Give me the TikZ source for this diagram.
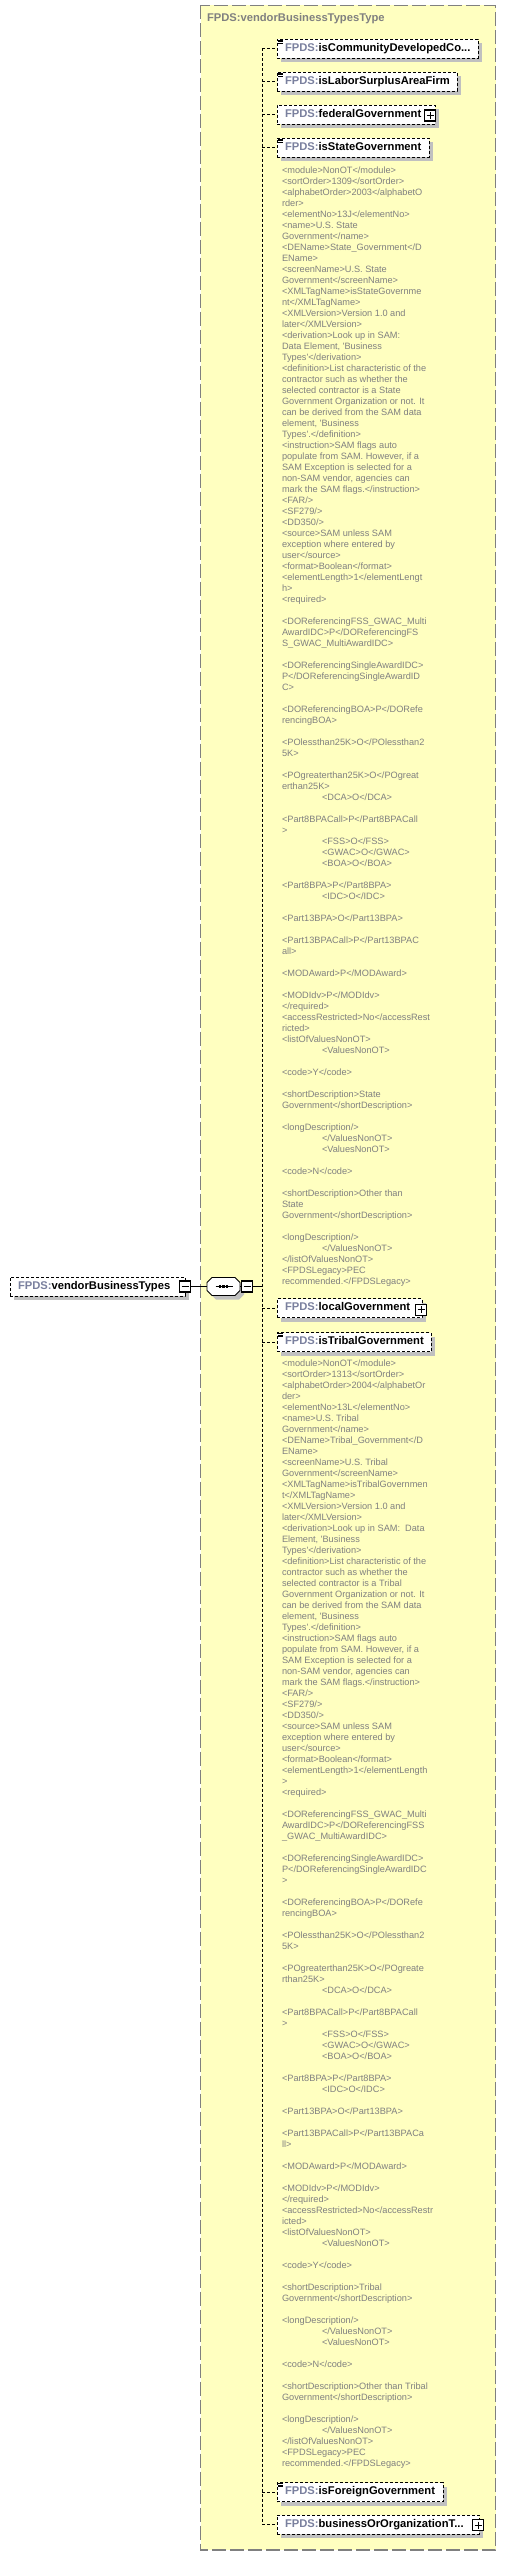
\documentclass[tikz,border=0pt]{standalone}
\usepackage{fontspec}
\newfontfamily\xsfont{Liberation Sans}
\usetikzlibrary{shadows,calc}
\definecolor{typebg}{RGB}{255,255,192}
\definecolor{typeedge}{RGB}{128,128,128}
\definecolor{anntext}{RGB}{128,128,128}
\definecolor{nsgray}{RGB}{122,128,158}
\definecolor{shadegray}{RGB}{192,192,192}
\newcommand\ns{\textcolor{nsgray}{FPDS:}}
\newcommand\ind{\hspace*{40pt}}
\newenvironment{doclines}{\begin{tabular}{@{}l@{}}}{\end{tabular}}
\begin{document}
\begin{tikzpicture}[x=1pt,y=-1pt]
\tikzset{ >=latex, inner sep=0pt, outer sep=0pt,
  elem/.style={draw, dash pattern=on 3pt off 2pt, fill=white, line width=0.8pt,
    minimum height=19, inner xsep=8, anchor=west, align=left,
    text height=8.2, text depth=2.4,
    font=\xsfont\fontsize{11.2}{13}\selectfont\bfseries,
    drop shadow={shadow xshift=4pt, shadow yshift=-4pt, fill=shadegray, opacity=1}},
  ann/.style={anchor=north west, text=anntext,
    font=\xsfont\fontsize{9.2}{11}\selectfont},
  conn/.style={dash pattern=on 3pt off 2pt, line width=0.8pt},
  plus/.style={draw, line width=1.4pt, fill=white, minimum size=11},
}
\useasboundingbox (0,0) rectangle (506,2556);

%\draw [lightgray, dashed](0,0) grid (506,2556);

% complex type frame
\fill [typebg] (200.5,5.5) rectangle (495.5,2550);
\draw [typeedge, line width=1.3pt, dash pattern=on 14pt off 4pt] (200.5,5.5) rectangle (495.5,2550);
\node [anchor=west, text=typeedge, font=\xsfont\fontsize{11.2}{13}\selectfont\bfseries] (typename) at (207,19) {FPDS:vendorBusinessTypesType};

% children
\node [elem, text width=185] (community) at (277,48.5) {\ns isCommunityDevelopedCo...};
\node [elem, text width=164] (labor) at (277,81.5) {\ns isLaborSurplusAreaFirm};
\node [elem, text width=142] (federal) at (277,114.5) {\ns federalGovernment};
\node [elem, text width=136] (state) at (277,147.5) {\ns isStateGovernment};
\node [elem, text width=129] (local) at (277,1308) {\ns localGovernment};
\node [elem, text width=138] (tribal) at (277,1342) {\ns isTribalGovernment};
\node [elem, text width=150] (foreign) at (277,2492) {\ns isForeignGovernment};
\node [elem, text width=186] (business) at (277,2524.5) {\ns businessOrOrganizationT...};

% annotation marks
\foreach \c in {community, labor, state, tribal, foreign}
  \foreach \dy in {1,2.5,4}
    \draw [line width=0.7pt] ($(\c.north west)+(1,\dy)$) -- ++(5,0);

% expand boxes
\node [plus] (federalplus) at ($(federal.east)+(-5,0.8)$) {};
\node [plus] (localplus) at ($(local.east)+(-1,1.8)$) {};
\node [plus] (businessplus) at ($(business.east)+(-1,0.5)$) {};
\foreach \p in {federalplus, localplus, businessplus}
  \draw [line width=1pt] ($(\p.center)+(-3.5,0)$) -- ++(7,0)
                         ($(\p.center)+(0,-3.5)$) -- ++(0,7);

% root element and sequence
\node [elem, text width=159] (root) at (10,1286.5) {\ns vendorBusinessTypes};
\node [plus] (rootminus) at (root.east) {};
\draw [line width=1pt] ($(rootminus.center)+(-3.5,0)$) -- ++(7,0);
\node [minimum width=33, minimum height=18] (seq) at (223.5,1286.5) {};
\fill [shadegray] ($(seq.center)+(4,4)$) ++(-16.5,-4) -- ++(5,-5) -- ++(23,0) -- ++(5,5)
      -- ++(0,8) -- ++(-5,5) -- ++(-23,0) -- ++(-5,-5) -- cycle;
\draw [fill=white, line width=0.8pt] (seq.center) ++(-16.5,-4) -- ++(5,-5) -- ++(23,0) -- ++(5,5)
      -- ++(0,8) -- ++(-5,5) -- ++(-23,0) -- ++(-5,-5) -- cycle;
\draw [line width=0.8pt] ($(seq.center)+(-8,0)$) -- ($(seq.center)+(9,0)$);
\foreach \dx in {-3.5,0,3.5}
  \fill ($(seq.center)+(\dx,0)$) +(-1.3,-1.3) rectangle +(1.3,1.3);
\node [plus] (seqminus) at ($(seq.east)+(7,0)$) {};
\draw [line width=1pt] ($(seqminus.center)+(-3.5,0)$) -- ++(7,0);
\draw [line width=0.8pt] (rootminus.east) -- (seq.west);
\draw [line width=0.8pt] (seq.east) -- (seqminus.west);

% connectors
\coordinate (spine) at (262,0);
\draw [line width=0.8pt] (seqminus.east) -- (spine |- seqminus.east);
\draw [conn] (spine |- community.west) -- (spine |- business.west);
\foreach \c in {community, labor, federal, state, local, tribal, foreign, business}
  \draw [conn] (spine |- \c.west) -- (\c.west);

% documentation
\node [ann] (statedoc) at (282,165.8) {\begin{doclines}
<module>NonOT</module>\\
<sortOrder>1309</sortOrder>\\
<alphabetOrder>2003</alphabetO\\
rder>\\
<elementNo>13J</elementNo>\\
<name>U.S. State\\
Government</name>\\
<DEName>State\_Government</D\\
EName>\\
<screenName>U.S. State\\
Government</screenName>\\
<XMLTagName>isStateGovernme\\
nt</XMLTagName>\\
<XMLVersion>Version 1.0 and\\
later</XMLVersion>\\
<derivation>Look up in SAM:\\
Data Element, 'Business\\
Types'</derivation>\\
<definition>List characteristic of the\\
contractor such as whether the\\
selected contractor is a State\\
Government Organization or not. It\\
can be derived from the SAM data\\
element, 'Business\\
Types'.</definition>\\
<instruction>SAM flags auto\\
populate from SAM. However, if a\\
SAM Exception is selected for a\\
non-SAM vendor, agencies can\\
mark the SAM flags.</instruction>\\
<FAR/>\\
<SF279/>\\
<DD350/>\\
<source>SAM unless SAM\\
exception where entered by\\
user</source>\\
<format>Boolean</format>\\
<elementLength>1</elementLengt\\
h>\\
<required>\\
~\\
<DOReferencingFSS\_GWAC\_Multi\\
AwardIDC>P</DOReferencingFS\\
S\_GWAC\_MultiAwardIDC>\\
~\\
<DOReferencingSingleAwardIDC>\\
P</DOReferencingSingleAwardID\\
C>\\
~\\
<DOReferencingBOA>P</DORefe\\
rencingBOA>\\
~\\
<POlessthan25K>O</POlessthan2\\
5K>\\
~\\
<POgreaterthan25K>O</POgreat\\
erthan25K>\\
\ind<DCA>O</DCA>\\
~\\
<Part8BPACall>P</Part8BPACall\\
>\\
\ind<FSS>O</FSS>\\
\ind<GWAC>O</GWAC>\\
\ind<BOA>O</BOA>\\
~\\
<Part8BPA>P</Part8BPA>\\
\ind<IDC>O</IDC>\\
~\\
<Part13BPA>O</Part13BPA>\\
~\\
<Part13BPACall>P</Part13BPAC\\
all>\\
~\\
<MODAward>P</MODAward>\\
~\\
<MODIdv>P</MODIdv>\\
</required>\\
<accessRestricted>No</accessRest\\
ricted>\\
<listOfValuesNonOT>\\
\ind<ValuesNonOT>\\
~\\
<code>Y</code>\\
~\\
<shortDescription>State\\
Government</shortDescription>\\
~\\
<longDescription/>\\
\ind</ValuesNonOT>\\
\ind<ValuesNonOT>\\
~\\
<code>N</code>\\
~\\
<shortDescription>Other than\\
State\\
Government</shortDescription>\\
~\\
<longDescription/>\\
\ind</ValuesNonOT>\\
</listOfValuesNonOT>\\
<FPDSLegacy>PEC\\
recommended.</FPDSLegacy>
\end{doclines}};

\node [ann] (tribaldoc) at (282,1358.8) {\begin{doclines}
<module>NonOT</module>\\
<sortOrder>1313</sortOrder>\\
<alphabetOrder>2004</alphabetOr\\
der>\\
<elementNo>13L</elementNo>\\
<name>U.S. Tribal\\
Government</name>\\
<DEName>Tribal\_Government</D\\
EName>\\
<screenName>U.S. Tribal\\
Government</screenName>\\
<XMLTagName>isTribalGovernmen\\
t</XMLTagName>\\
<XMLVersion>Version 1.0 and\\
later</XMLVersion>\\
<derivation>Look up in SAM:\ \ Data\\
Element, 'Business\\
Types'</derivation>\\
<definition>List characteristic of the\\
contractor such as whether the\\
selected contractor is a Tribal\\
Government Organization or not. It\\
can be derived from the SAM data\\
element, 'Business\\
Types'.</definition>\\
<instruction>SAM flags auto\\
populate from SAM. However, if a\\
SAM Exception is selected for a\\
non-SAM vendor, agencies can\\
mark the SAM flags.</instruction>\\
<FAR/>\\
<SF279/>\\
<DD350/>\\
<source>SAM unless SAM\\
exception where entered by\\
user</source>\\
<format>Boolean</format>\\
<elementLength>1</elementLength\\
>\\
<required>\\
~\\
<DOReferencingFSS\_GWAC\_Multi\\
AwardIDC>P</DOReferencingFSS\\
\_GWAC\_MultiAwardIDC>\\
~\\
<DOReferencingSingleAwardIDC>\\
P</DOReferencingSingleAwardIDC\\
>\\
~\\
<DOReferencingBOA>P</DORefe\\
rencingBOA>\\
~\\
<POlessthan25K>O</POlessthan2\\
5K>\\
~\\
<POgreaterthan25K>O</POgreate\\
rthan25K>\\
\ind<DCA>O</DCA>\\
~\\
<Part8BPACall>P</Part8BPACall\\
>\\
\ind<FSS>O</FSS>\\
\ind<GWAC>O</GWAC>\\
\ind<BOA>O</BOA>\\
~\\
<Part8BPA>P</Part8BPA>\\
\ind<IDC>O</IDC>\\
~\\
<Part13BPA>O</Part13BPA>\\
~\\
<Part13BPACall>P</Part13BPACa\\
ll>\\
~\\
<MODAward>P</MODAward>\\
~\\
<MODIdv>P</MODIdv>\\
</required>\\
<accessRestricted>No</accessRestr\\
icted>\\
<listOfValuesNonOT>\\
\ind<ValuesNonOT>\\
~\\
<code>Y</code>\\
~\\
<shortDescription>Tribal\\
Government</shortDescription>\\
~\\
<longDescription/>\\
\ind</ValuesNonOT>\\
\ind<ValuesNonOT>\\
~\\
<code>N</code>\\
~\\
<shortDescription>Other than Tribal\\
Government</shortDescription>\\
~\\
<longDescription/>\\
\ind</ValuesNonOT>\\
</listOfValuesNonOT>\\
<FPDSLegacy>PEC\\
recommended.</FPDSLegacy>
\end{doclines}};

\end{tikzpicture}
\end{document}
